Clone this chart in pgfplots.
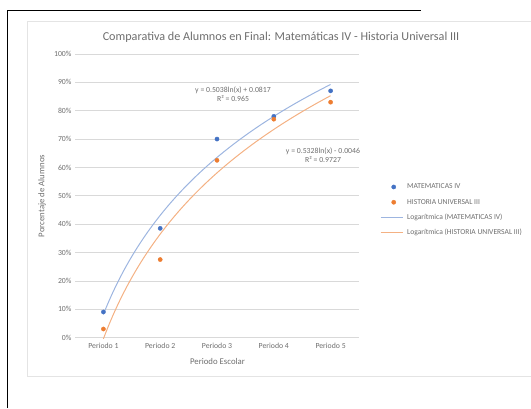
\documentclass[border=0pt]{standalone}
\usepackage{pgfplots}
\pgfplotsset{compat=1.18}
\usepackage{fontspec}
\setmainfont{Carlito}
\definecolor{serB}{HTML}{4472C4}
\definecolor{serO}{HTML}{ED7D31}
\definecolor{trB}{HTML}{9DB5E0}
\definecolor{trO}{HTML}{F4B183}
\definecolor{txt}{HTML}{6E6E6E}
\definecolor{grd}{HTML}{D9D9D9}
\pgfplotsset{
  markleg/.style={legend image code/.code={\draw[mark repeat=2,mark phase=2,##1] plot coordinates {(0bp,0bp)(13bp,0bp)(22bp,0bp)};}},
  lineleg/.style={legend image code/.code={\draw[##1] (0bp,0bp) -- (22bp,0bp);}},
}
\begin{document}
\begin{tikzpicture}
\begin{scope}[x=1bp,y=1bp]
\useasboundingbox (0,0) rectangle (531,408);
\draw[black,line width=1.3bp] (7.5,0) -- (7.5,397.5) -- (421,397.5);
\draw[grd!70, line width=0.8bp] (532,386.5) -- (27,386.5) -- (27,32) -- (532,32);
\node[txt,font=\fontsize{12.2}{14}\selectfont] at (281,371) {Comparativa de Alumnos en Final: Matemáticas IV - Historia Universal III};
\node[txt,font=\fontsize{7.8}{9}\selectfont] at (233,318) {y = 0.5038ln(x) + 0.0817};
\node[txt,font=\fontsize{7.8}{9}\selectfont] at (233,309) {R² = 0.965};
\node[txt,font=\fontsize{7.8}{9}\selectfont] at (323,257) {y = 0.5328ln(x) - 0.0046};
\node[txt,font=\fontsize{7.8}{9}\selectfont] at (323,248) {R² = 0.9727};
\node[txt,font=\fontsize{8.8}{10}\selectfont,rotate=90] at (42,212) {Porcentaje de Alumnos};
\node[txt,font=\fontsize{8.8}{10}\selectfont] at (217.5,47) {Periodo Escolar};
\end{scope}
\begin{axis}[at={(75bp,70.5bp)},anchor=south west,scale only axis,width=284bp,height=283.5bp,
  xmin=0.5,xmax=5.5,ymin=0,ymax=1,
  axis line style={draw=none},
  xtick={1,2,3,4,5},
  xticklabels={Periodo 1,Periodo 2,Periodo 3,Periodo 4,Periodo 5},
  ytick={0,0.1,0.2,0.3,0.4,0.5,0.6,0.7,0.8,0.9,1},
  yticklabels={0\%,10\%,20\%,30\%,40\%,50\%,60\%,70\%,80\%,90\%,100\%},
  tick style={draw=none},
  ymajorgrids, grid style={grd,line width=0.6bp},
  ticklabel style={font=\fontsize{7.8}{9}\selectfont,text=txt},
  xticklabel style={yshift=-2.5bp},
  clip=false,
  legend cell align=left,
  legend style={at={(1.074,0.45)},anchor=west,draw=none,fill=none,inner sep=0pt,
    row sep=8.3bp,column sep=4bp,font=\fontsize{7.6}{9}\selectfont,text=txt,
    nodes={inner sep=0pt,text height=5.5bp,text depth=1.5bp}},
]
\addplot[only marks,mark=*,mark size=2.1bp,color=serB,markleg]
  coordinates {(1,0.09)(2,0.385)(3,0.70)(4,0.78)(5,0.87)};
\addlegendentry{MATEMATICAS IV}
\addplot[only marks,mark=*,mark size=2.1bp,color=serO,markleg]
  coordinates {(1,0.03)(2,0.275)(3,0.625)(4,0.77)(5,0.83)};
\addlegendentry{HISTORIA UNIVERSAL III}
\addplot[trB,line width=1bp,domain=1:5,samples=80,smooth,lineleg] {0.5038*ln(x)+0.0817};
\addlegendentry{Logarítmica (MATEMATICAS IV)}
\addplot[trO,line width=1bp,domain=1:5,samples=80,smooth,lineleg] {0.5328*ln(x)-0.0046};
\addlegendentry{Logarítmica (HISTORIA UNIVERSAL III)}
\end{axis}
\end{tikzpicture}
\end{document}
